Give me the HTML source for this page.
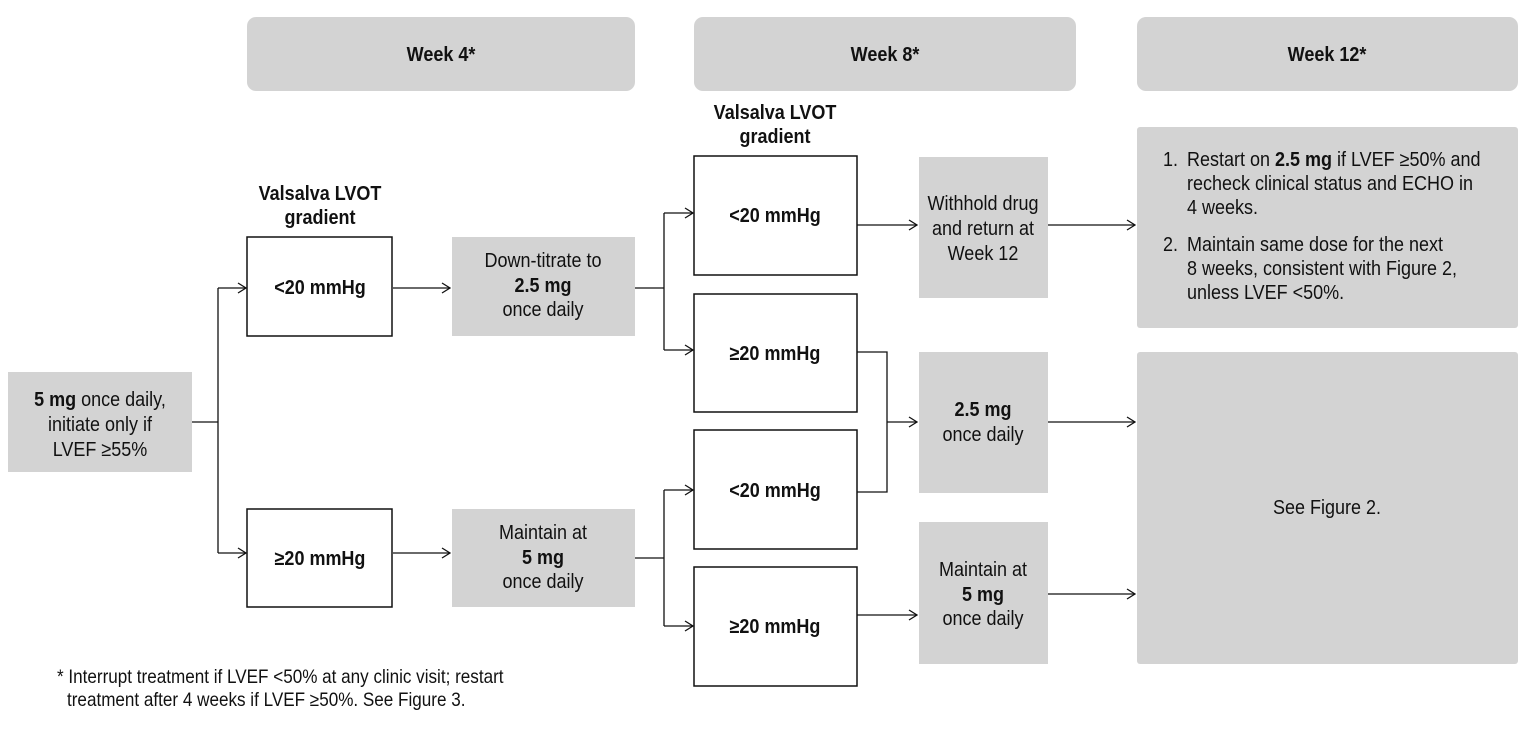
<!DOCTYPE html>
<html><head><meta charset="utf-8"><style>
html,body{margin:0;padding:0;background:#fff}
svg{display:block}
text{font-family:"Liberation Sans Narrow","Liberation Sans",sans-serif;font-size:20px;fill:#111;transform-box:fill-box;transform-origin:center;transform:scaleX(.9)}
text.l{transform-origin:left center}
.b{font-weight:bold}
</style></head><body>
<svg width="1533" height="744" viewBox="0 0 1533 744" xmlns="http://www.w3.org/2000/svg">
<defs><marker id="a" markerWidth="10" markerHeight="12" refX="9" refY="6" orient="auto" markerUnits="userSpaceOnUse"><path d="M1,1 L9,6 L1,11" fill="none" stroke="#111" stroke-width="1.3"/></marker></defs>
<g fill="#d3d3d3">
<rect x="247" y="17" width="388" height="74" rx="9"/>
<rect x="694" y="17" width="382" height="74" rx="9"/>
<rect x="1137" y="17" width="381" height="74" rx="9"/>
<rect x="8" y="372" width="184" height="100"/>
<rect x="452" y="237" width="183" height="99"/>
<rect x="452" y="509" width="183" height="98"/>
<rect x="919" y="157" width="129" height="141"/>
<rect x="919" y="352" width="129" height="141"/>
<rect x="919" y="522" width="129" height="142"/>
<rect x="1137" y="127" width="381" height="201" rx="3"/>
<rect x="1137" y="352" width="381" height="312" rx="3"/>
</g>
<g fill="#fff" stroke="#111" stroke-width="1.5">
<rect x="247" y="237" width="145" height="99"/>
<rect x="247" y="509" width="145" height="98"/>
<rect x="694" y="156" width="163" height="119"/>
<rect x="694" y="294" width="163" height="118"/>
<rect x="694" y="430" width="163" height="119"/>
<rect x="694" y="567" width="163" height="119"/>
</g>
<g fill="none" stroke="#111" stroke-width="1.3">
<path d="M192,422 H218 M218,288 V553"/>
<path d="M218,288 H246" marker-end="url(#a)"/>
<path d="M218,553 H246" marker-end="url(#a)"/>
<path d="M393,288 H450" marker-end="url(#a)"/>
<path d="M393,553 H450" marker-end="url(#a)"/>
<path d="M635,288 H664 M664,213 V350 M635,558 H664 M664,490 V626"/>
<path d="M664,213 H693" marker-end="url(#a)"/>
<path d="M664,350 H693" marker-end="url(#a)"/>
<path d="M664,490 H693" marker-end="url(#a)"/>
<path d="M664,626 H693" marker-end="url(#a)"/>
<path d="M857,225 H917" marker-end="url(#a)"/>
<path d="M857,352 H887 V492 H857"/>
<path d="M887,422 H917" marker-end="url(#a)"/>
<path d="M857,615 H917" marker-end="url(#a)"/>
<path d="M1048,225 H1135" marker-end="url(#a)"/>
<path d="M1048,422 H1135" marker-end="url(#a)"/>
<path d="M1048,594 H1135" marker-end="url(#a)"/>
</g>
<g text-anchor="middle">
<text x="441" y="61" class="b">Week 4*</text>
<text x="885" y="61" class="b">Week 8*</text>
<text x="1327" y="61" class="b">Week 12*</text>
<text x="320" y="200" class="b">Valsalva LVOT</text>
<text x="320" y="224" class="b">gradient</text>
<text x="775" y="119" class="b">Valsalva LVOT</text>
<text x="775" y="143" class="b">gradient</text>
<text x="100" y="406"><tspan class="b">5 mg</tspan> once daily,</text>
<text x="100" y="431">initiate only if</text>
<text x="100" y="456">LVEF ≥55%</text>
<text x="320" y="294" class="b">&lt;20 mmHg</text>
<text x="320" y="565" class="b">≥20 mmHg</text>
<text x="543" y="267">Down-titrate to</text>
<text x="543" y="292" class="b">2.5 mg</text>
<text x="543" y="316">once daily</text>
<text x="543" y="539">Maintain at</text>
<text x="543" y="564" class="b">5 mg</text>
<text x="543" y="588">once daily</text>
<text x="775" y="222" class="b">&lt;20 mmHg</text>
<text x="775" y="360" class="b">≥20 mmHg</text>
<text x="775" y="497" class="b">&lt;20 mmHg</text>
<text x="775" y="633" class="b">≥20 mmHg</text>
<text x="983" y="210">Withhold drug</text>
<text x="983" y="235">and return at</text>
<text x="983" y="260">Week 12</text>
<text x="983" y="416" class="b">2.5 mg</text>
<text x="983" y="441">once daily</text>
<text x="983" y="576">Maintain at</text>
<text x="983" y="601" class="b">5 mg</text>
<text x="983" y="625">once daily</text>
<text x="1327" y="514">See Figure 2.</text>
</g>
<text class="l" x="1163" y="166">1.</text>
<text class="l" x="1187" y="166">Restart on <tspan class="b">2.5 mg</tspan> if LVEF ≥50% and</text>
<text class="l" x="1187" y="190">recheck clinical status and ECHO in</text>
<text class="l" x="1187" y="214">4 weeks.</text>
<text class="l" x="1163" y="251">2.</text>
<text class="l" x="1187" y="251">Maintain same dose for the next</text>
<text class="l" x="1187" y="275">8 weeks, consistent with Figure 2,</text>
<text class="l" x="1187" y="299">unless LVEF &lt;50%.</text>
<text class="l" x="57" y="683" style="font-size:19px">* Interrupt treatment if LVEF &lt;50% at any clinic visit; restart</text>
<text class="l" x="67" y="706" style="font-size:19px">treatment after 4 weeks if LVEF ≥50%. See Figure 3.</text>
</svg>
</body></html>
